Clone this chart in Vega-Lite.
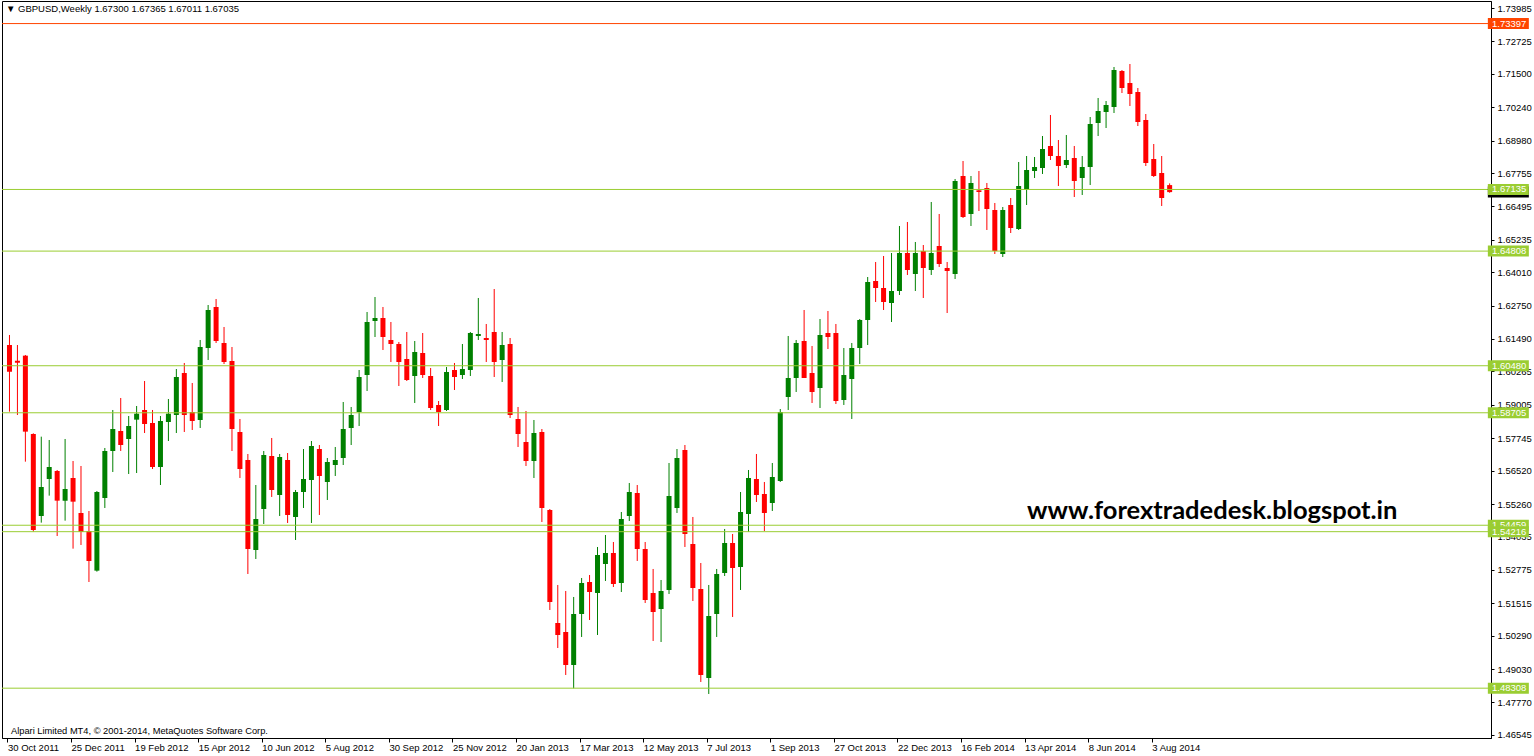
{
  "$schema": "https://vega.github.io/schema/vega-lite/v6.json",
  "width": 1489,
  "height": 737,
  "autosize": {"type": "none"},
  "padding": {"left": 2, "top": 1, "right": 43, "bottom": 18},
  "background": "#ffffff",
  "title": {
    "text": "▼  GBPUSD,Weekly  1.67300 1.67365 1.67011 1.67035",
    "anchor": "start", "frame": "group", "offset": -12, "dx": 4,
    "font": "Liberation Sans", "fontSize": 9.5, "fontWeight": "normal", "color": "#000000"
  },
  "config": {
    "view": {"stroke": "#000000", "strokeWidth": 1},
    "axis": {
      "grid": false, "domainColor": "#000000", "tickColor": "#000000", "labelColor": "#000000",
      "labelFont": "Liberation Sans", "labelFontSize": 9.5, "tickSize": 3, "labelOverlap": false, "labelFlush": false
    }
  },
  "datasets": {
    "candles": [
      {"date": "2011-10-30", "open": 1.61263, "high": 1.61641, "low": 1.58747, "close": 1.60257},
      {"date": "2011-11-06", "open": 1.60672, "high": 1.61263, "low": 1.58621, "close": 1.60596},
      {"date": "2011-11-13", "open": 1.60861, "high": 1.60886, "low": 1.56859, "close": 1.57992},
      {"date": "2011-11-20", "open": 1.57904, "high": 1.57929, "low": 1.54217, "close": 1.54280},
      {"date": "2011-11-27", "open": 1.54808, "high": 1.57803, "low": 1.54557, "close": 1.55903},
      {"date": "2011-12-04", "open": 1.56205, "high": 1.57677, "low": 1.55576, "close": 1.56658},
      {"date": "2011-12-11", "open": 1.56507, "high": 1.56545, "low": 1.54053, "close": 1.55387},
      {"date": "2011-12-18", "open": 1.55387, "high": 1.57715, "low": 1.54632, "close": 1.55827},
      {"date": "2011-12-25", "open": 1.56243, "high": 1.56884, "low": 1.53575, "close": 1.55349},
      {"date": "2012-01-01", "open": 1.54922, "high": 1.56696, "low": 1.53714, "close": 1.54204},
      {"date": "2012-01-08", "open": 1.54242, "high": 1.54997, "low": 1.52317, "close": 1.53110},
      {"date": "2012-01-15", "open": 1.52745, "high": 1.55752, "low": 1.52707, "close": 1.55714},
      {"date": "2012-01-22", "open": 1.55488, "high": 1.57375, "low": 1.55110, "close": 1.57262},
      {"date": "2012-01-29", "open": 1.57262, "high": 1.58810, "low": 1.56469, "close": 1.58092},
      {"date": "2012-02-05", "open": 1.58017, "high": 1.59263, "low": 1.57262, "close": 1.57488},
      {"date": "2012-02-12", "open": 1.57715, "high": 1.58583, "low": 1.56394, "close": 1.58206},
      {"date": "2012-02-19", "open": 1.58445, "high": 1.58961, "low": 1.56431, "close": 1.58671},
      {"date": "2012-02-26", "open": 1.58810, "high": 1.59904, "low": 1.57941, "close": 1.58281},
      {"date": "2012-03-04", "open": 1.58319, "high": 1.58810, "low": 1.56582, "close": 1.56658},
      {"date": "2012-03-11", "open": 1.56658, "high": 1.58583, "low": 1.55978, "close": 1.58394},
      {"date": "2012-03-18", "open": 1.58357, "high": 1.59225, "low": 1.57639, "close": 1.58671},
      {"date": "2012-03-25", "open": 1.58621, "high": 1.60357, "low": 1.57941, "close": 1.60055},
      {"date": "2012-04-01", "open": 1.60206, "high": 1.60584, "low": 1.57979, "close": 1.58621},
      {"date": "2012-04-08", "open": 1.58734, "high": 1.59829, "low": 1.58055, "close": 1.58394},
      {"date": "2012-04-15", "open": 1.58432, "high": 1.61452, "low": 1.58130, "close": 1.61188},
      {"date": "2012-04-22", "open": 1.61150, "high": 1.62773, "low": 1.60697, "close": 1.62585},
      {"date": "2012-04-29", "open": 1.62698, "high": 1.63000, "low": 1.61339, "close": 1.61414},
      {"date": "2012-05-06", "open": 1.61339, "high": 1.61943, "low": 1.60546, "close": 1.60622},
      {"date": "2012-05-13", "open": 1.60659, "high": 1.61188, "low": 1.57262, "close": 1.58092},
      {"date": "2012-05-20", "open": 1.57979, "high": 1.58470, "low": 1.56243, "close": 1.56582},
      {"date": "2012-05-27", "open": 1.56922, "high": 1.57149, "low": 1.52619, "close": 1.53563},
      {"date": "2012-06-03", "open": 1.53525, "high": 1.55978, "low": 1.53185, "close": 1.54695},
      {"date": "2012-06-10", "open": 1.55072, "high": 1.57262, "low": 1.54506, "close": 1.57111},
      {"date": "2012-06-17", "open": 1.57073, "high": 1.57753, "low": 1.55526, "close": 1.55790},
      {"date": "2012-06-24", "open": 1.55601, "high": 1.57149, "low": 1.54808, "close": 1.57035},
      {"date": "2012-07-01", "open": 1.56922, "high": 1.57186, "low": 1.54544, "close": 1.54846},
      {"date": "2012-07-08", "open": 1.54771, "high": 1.55790, "low": 1.53902, "close": 1.55714},
      {"date": "2012-07-15", "open": 1.55714, "high": 1.57337, "low": 1.55110, "close": 1.56205},
      {"date": "2012-07-22", "open": 1.56167, "high": 1.57639, "low": 1.54544, "close": 1.57451},
      {"date": "2012-07-29", "open": 1.57337, "high": 1.57488, "low": 1.54846, "close": 1.56318},
      {"date": "2012-08-05", "open": 1.56092, "high": 1.56998, "low": 1.55412, "close": 1.56847},
      {"date": "2012-08-12", "open": 1.56733, "high": 1.57413, "low": 1.56318, "close": 1.56922},
      {"date": "2012-08-19", "open": 1.56998, "high": 1.59112, "low": 1.56733, "close": 1.58092},
      {"date": "2012-08-26", "open": 1.58130, "high": 1.58923, "low": 1.57488, "close": 1.58621},
      {"date": "2012-09-02", "open": 1.58734, "high": 1.60320, "low": 1.58206, "close": 1.60055},
      {"date": "2012-09-09", "open": 1.60131, "high": 1.62509, "low": 1.59527, "close": 1.62132},
      {"date": "2012-09-16", "open": 1.62169, "high": 1.63075, "low": 1.61565, "close": 1.62283},
      {"date": "2012-09-23", "open": 1.62283, "high": 1.62698, "low": 1.61075, "close": 1.61565},
      {"date": "2012-09-30", "open": 1.61452, "high": 1.62132, "low": 1.60622, "close": 1.61301},
      {"date": "2012-10-07", "open": 1.61301, "high": 1.61377, "low": 1.59716, "close": 1.60622},
      {"date": "2012-10-14", "open": 1.60735, "high": 1.61754, "low": 1.59904, "close": 1.59942},
      {"date": "2012-10-21", "open": 1.60093, "high": 1.61414, "low": 1.59074, "close": 1.60999},
      {"date": "2012-10-28", "open": 1.60961, "high": 1.61716, "low": 1.60018, "close": 1.60131},
      {"date": "2012-11-04", "open": 1.60093, "high": 1.60395, "low": 1.58810, "close": 1.58885},
      {"date": "2012-11-11", "open": 1.58998, "high": 1.59149, "low": 1.58206, "close": 1.58734},
      {"date": "2012-11-18", "open": 1.58810, "high": 1.60433, "low": 1.58772, "close": 1.60244},
      {"date": "2012-11-25", "open": 1.60320, "high": 1.60584, "low": 1.59565, "close": 1.60055},
      {"date": "2012-12-02", "open": 1.60131, "high": 1.61301, "low": 1.59980, "close": 1.60357},
      {"date": "2012-12-09", "open": 1.60320, "high": 1.61754, "low": 1.60093, "close": 1.61716},
      {"date": "2012-12-16", "open": 1.61603, "high": 1.63038, "low": 1.61452, "close": 1.61679},
      {"date": "2012-12-23", "open": 1.61528, "high": 1.62056, "low": 1.60622, "close": 1.61452},
      {"date": "2012-12-30", "open": 1.61754, "high": 1.63377, "low": 1.60055, "close": 1.60622},
      {"date": "2013-01-06", "open": 1.60697, "high": 1.61754, "low": 1.59867, "close": 1.61263},
      {"date": "2013-01-13", "open": 1.61301, "high": 1.61528, "low": 1.58508, "close": 1.58621},
      {"date": "2013-01-20", "open": 1.58470, "high": 1.58923, "low": 1.57413, "close": 1.57904},
      {"date": "2013-01-27", "open": 1.57602, "high": 1.58772, "low": 1.56696, "close": 1.56884},
      {"date": "2013-02-03", "open": 1.56884, "high": 1.58432, "low": 1.56243, "close": 1.57941},
      {"date": "2013-02-10", "open": 1.57979, "high": 1.58092, "low": 1.54582, "close": 1.55110},
      {"date": "2013-02-17", "open": 1.55035, "high": 1.55072, "low": 1.51260, "close": 1.51562},
      {"date": "2013-02-24", "open": 1.50769, "high": 1.52204, "low": 1.49825, "close": 1.50316},
      {"date": "2013-03-03", "open": 1.50429, "high": 1.51977, "low": 1.48806, "close": 1.49184},
      {"date": "2013-03-10", "open": 1.49184, "high": 1.51751, "low": 1.48303, "close": 1.51109},
      {"date": "2013-03-17", "open": 1.51109, "high": 1.52468, "low": 1.50241, "close": 1.52279},
      {"date": "2013-03-24", "open": 1.52317, "high": 1.52581, "low": 1.50882, "close": 1.51939},
      {"date": "2013-03-31", "open": 1.51902, "high": 1.53638, "low": 1.50316, "close": 1.53336},
      {"date": "2013-04-07", "open": 1.52996, "high": 1.54091, "low": 1.52355, "close": 1.53412},
      {"date": "2013-04-14", "open": 1.53412, "high": 1.53827, "low": 1.52128, "close": 1.52241},
      {"date": "2013-04-21", "open": 1.52279, "high": 1.54959, "low": 1.51939, "close": 1.54695},
      {"date": "2013-04-28", "open": 1.54808, "high": 1.56054, "low": 1.54620, "close": 1.55714},
      {"date": "2013-05-05", "open": 1.55676, "high": 1.55978, "low": 1.53110, "close": 1.53563},
      {"date": "2013-05-12", "open": 1.53563, "high": 1.53827, "low": 1.51524, "close": 1.51637},
      {"date": "2013-05-19", "open": 1.51902, "high": 1.52808, "low": 1.50090, "close": 1.51184},
      {"date": "2013-05-26", "open": 1.51298, "high": 1.52392, "low": 1.50052, "close": 1.51977},
      {"date": "2013-06-02", "open": 1.52015, "high": 1.56809, "low": 1.51864, "close": 1.55563},
      {"date": "2013-06-09", "open": 1.55110, "high": 1.57337, "low": 1.54922, "close": 1.56998},
      {"date": "2013-06-16", "open": 1.57300, "high": 1.57488, "low": 1.53638, "close": 1.54129},
      {"date": "2013-06-23", "open": 1.53751, "high": 1.54771, "low": 1.51600, "close": 1.52090},
      {"date": "2013-06-30", "open": 1.52053, "high": 1.53034, "low": 1.48542, "close": 1.48806},
      {"date": "2013-07-07", "open": 1.48693, "high": 1.52204, "low": 1.48089, "close": 1.51033},
      {"date": "2013-07-14", "open": 1.51109, "high": 1.52808, "low": 1.50241, "close": 1.52619},
      {"date": "2013-07-21", "open": 1.52657, "high": 1.54318, "low": 1.52543, "close": 1.53789},
      {"date": "2013-07-28", "open": 1.53789, "high": 1.54129, "low": 1.50996, "close": 1.52845},
      {"date": "2013-08-04", "open": 1.52883, "high": 1.55714, "low": 1.52015, "close": 1.54959},
      {"date": "2013-08-11", "open": 1.54884, "high": 1.56545, "low": 1.54204, "close": 1.56243},
      {"date": "2013-08-18", "open": 1.56205, "high": 1.57149, "low": 1.55337, "close": 1.55601},
      {"date": "2013-08-25", "open": 1.55639, "high": 1.56092, "low": 1.54242, "close": 1.54922},
      {"date": "2013-09-01", "open": 1.55299, "high": 1.56809, "low": 1.54997, "close": 1.56280},
      {"date": "2013-09-08", "open": 1.56129, "high": 1.58847, "low": 1.56092, "close": 1.58734},
      {"date": "2013-09-15", "open": 1.59301, "high": 1.61603, "low": 1.58810, "close": 1.60018},
      {"date": "2013-09-22", "open": 1.60018, "high": 1.61452, "low": 1.59489, "close": 1.61339},
      {"date": "2013-09-29", "open": 1.61415, "high": 1.62585, "low": 1.60018, "close": 1.60018},
      {"date": "2013-10-06", "open": 1.60207, "high": 1.61226, "low": 1.59074, "close": 1.59489},
      {"date": "2013-10-13", "open": 1.59640, "high": 1.62245, "low": 1.58885, "close": 1.61641},
      {"date": "2013-10-20", "open": 1.61716, "high": 1.62547, "low": 1.61112, "close": 1.61565},
      {"date": "2013-10-27", "open": 1.61716, "high": 1.62056, "low": 1.59036, "close": 1.59150},
      {"date": "2013-11-03", "open": 1.59187, "high": 1.61150, "low": 1.58999, "close": 1.60131},
      {"date": "2013-11-10", "open": 1.59980, "high": 1.61339, "low": 1.58470, "close": 1.61150},
      {"date": "2013-11-17", "open": 1.61150, "high": 1.62245, "low": 1.60546, "close": 1.62207},
      {"date": "2013-11-24", "open": 1.62207, "high": 1.63830, "low": 1.61263, "close": 1.63642},
      {"date": "2013-12-01", "open": 1.63679, "high": 1.64397, "low": 1.62887, "close": 1.63415},
      {"date": "2013-12-08", "open": 1.63415, "high": 1.64623, "low": 1.62585, "close": 1.62887},
      {"date": "2013-12-15", "open": 1.62849, "high": 1.64736, "low": 1.62132, "close": 1.63302},
      {"date": "2013-12-22", "open": 1.63302, "high": 1.65756, "low": 1.63151, "close": 1.64736},
      {"date": "2013-12-29", "open": 1.64736, "high": 1.65907, "low": 1.63906, "close": 1.64095},
      {"date": "2014-01-05", "open": 1.63944, "high": 1.65152, "low": 1.63302, "close": 1.64736},
      {"date": "2014-01-12", "open": 1.64812, "high": 1.65038, "low": 1.63038, "close": 1.64170},
      {"date": "2014-01-19", "open": 1.64095, "high": 1.66662, "low": 1.63906, "close": 1.64736},
      {"date": "2014-01-26", "open": 1.65001, "high": 1.66209, "low": 1.64208, "close": 1.64321},
      {"date": "2014-02-02", "open": 1.64170, "high": 1.64397, "low": 1.62471, "close": 1.64057},
      {"date": "2014-02-09", "open": 1.63944, "high": 1.67530, "low": 1.63755, "close": 1.67454},
      {"date": "2014-02-16", "open": 1.67643, "high": 1.68209, "low": 1.66058, "close": 1.66095},
      {"date": "2014-02-23", "open": 1.66209, "high": 1.67643, "low": 1.65756, "close": 1.67379},
      {"date": "2014-03-02", "open": 1.67102, "high": 1.67832, "low": 1.66322, "close": 1.67039},
      {"date": "2014-03-09", "open": 1.67190, "high": 1.67379, "low": 1.65605, "close": 1.66397},
      {"date": "2014-03-16", "open": 1.66360, "high": 1.66624, "low": 1.64699, "close": 1.64812},
      {"date": "2014-03-23", "open": 1.64699, "high": 1.66473, "low": 1.64585, "close": 1.66360},
      {"date": "2014-03-30", "open": 1.66548, "high": 1.66813, "low": 1.65491, "close": 1.65680},
      {"date": "2014-04-06", "open": 1.65642, "high": 1.68172, "low": 1.65605, "close": 1.67266},
      {"date": "2014-04-13", "open": 1.67152, "high": 1.68398, "low": 1.66548, "close": 1.67870},
      {"date": "2014-04-20", "open": 1.67832, "high": 1.68360, "low": 1.67568, "close": 1.67983},
      {"date": "2014-04-27", "open": 1.67945, "high": 1.69153, "low": 1.67719, "close": 1.68662},
      {"date": "2014-05-04", "open": 1.68776, "high": 1.69946, "low": 1.68247, "close": 1.68398},
      {"date": "2014-05-11", "open": 1.68398, "high": 1.69002, "low": 1.67266, "close": 1.68021},
      {"date": "2014-05-18", "open": 1.68058, "high": 1.69191, "low": 1.67945, "close": 1.68247},
      {"date": "2014-05-25", "open": 1.68323, "high": 1.68776, "low": 1.66850, "close": 1.67454},
      {"date": "2014-06-01", "open": 1.67568, "high": 1.68398, "low": 1.66926, "close": 1.67983},
      {"date": "2014-06-08", "open": 1.67983, "high": 1.69870, "low": 1.67303, "close": 1.69606},
      {"date": "2014-06-15", "open": 1.69644, "high": 1.70588, "low": 1.69153, "close": 1.70097},
      {"date": "2014-06-22", "open": 1.70059, "high": 1.70474, "low": 1.69455, "close": 1.70323},
      {"date": "2014-06-29", "open": 1.70248, "high": 1.71758, "low": 1.70021, "close": 1.71644},
      {"date": "2014-07-06", "open": 1.71607, "high": 1.71644, "low": 1.70776, "close": 1.70965},
      {"date": "2014-07-13", "open": 1.71154, "high": 1.71871, "low": 1.70285, "close": 1.70738},
      {"date": "2014-07-20", "open": 1.70814, "high": 1.70965, "low": 1.69530, "close": 1.69681},
      {"date": "2014-07-27", "open": 1.69757, "high": 1.69983, "low": 1.68021, "close": 1.68134},
      {"date": "2014-08-03", "open": 1.68285, "high": 1.68851, "low": 1.67605, "close": 1.67643},
      {"date": "2014-08-10", "open": 1.67756, "high": 1.68398, "low": 1.66511, "close": 1.66813},
      {"date": "2014-08-17", "open": 1.67300, "high": 1.67365, "low": 1.67011, "close": 1.67035}
    ],
    "levels": [
      {"level": 1.67035, "kind": "bid"},
      {"level": 1.73397, "kind": "high"},
      {"level": 1.67135, "kind": "level"},
      {"level": 1.64808, "kind": "level"},
      {"level": 1.60480, "kind": "level"},
      {"level": 1.58705, "kind": "level"},
      {"level": 1.54459, "kind": "level"},
      {"level": 1.54216, "kind": "level"},
      {"level": 1.48308, "kind": "level"}
    ]
  },
  "layer": [
    {
      "data": {"name": "candles"},
      "mark": {"type": "rule", "strokeWidth": 1},
      "encoding": {
        "x": {
          "field": "date", "type": "temporal", "title": null,
          "scale": {
            "type": "utc",
            "domain": [
              {"year": 2011, "month": 10, "date": 27, "hours": 19, "minutes": 30, "utc": true},
              {"year": 2015, "month": 5, "date": 22, "hours": 16, "minutes": 30, "utc": true}
            ]
          },
          "axis": {
            "orient": "bottom", "format": "%-d %b %Y", "labelAlign": "left", "labelBaseline": "top",
            "labelPadding": 0, "tickSize": 4, "tickOffset": -2, "labelOverlap": false, "tickCount": 60,
            "values": [
              {"year": 2011, "month": 10, "date": 30, "utc": true},
              {"year": 2011, "month": 12, "date": 25, "utc": true},
              {"year": 2012, "month": 2, "date": 19, "utc": true},
              {"year": 2012, "month": 4, "date": 15, "utc": true},
              {"year": 2012, "month": 6, "date": 10, "utc": true},
              {"year": 2012, "month": 8, "date": 5, "utc": true},
              {"year": 2012, "month": 9, "date": 30, "utc": true},
              {"year": 2012, "month": 11, "date": 25, "utc": true},
              {"year": 2013, "month": 1, "date": 20, "utc": true},
              {"year": 2013, "month": 3, "date": 17, "utc": true},
              {"year": 2013, "month": 5, "date": 12, "utc": true},
              {"year": 2013, "month": 7, "date": 7, "utc": true},
              {"year": 2013, "month": 9, "date": 1, "utc": true},
              {"year": 2013, "month": 10, "date": 27, "utc": true},
              {"year": 2013, "month": 12, "date": 22, "utc": true},
              {"year": 2014, "month": 2, "date": 16, "utc": true},
              {"year": 2014, "month": 4, "date": 13, "utc": true},
              {"year": 2014, "month": 6, "date": 8, "utc": true},
              {"year": 2014, "month": 8, "date": 3, "utc": true}
            ]
          }
        },
        "y": {
          "field": "low", "type": "quantitative", "title": null,
          "scale": {"domain": [1.464274, 1.742493], "nice": false, "zero": false},
          "axis": {
            "orient": "right", "format": ".5f", "labelPadding": 3, "labelBaseline": "middle",
            "labelOverlap": false, "labelBound": false, "tickCount": 60,
            "values": [1.73985, 1.72725, 1.715, 1.7024, 1.6898, 1.67755, 1.66495, 1.65235, 1.6401, 1.6275, 1.6149, 1.60265,
                       1.59005, 1.57745, 1.5652, 1.5526, 1.54035, 1.52775, 1.51515, 1.5029, 1.4903, 1.4777, 1.46545]
          }
        },
        "y2": {"field": "high"},
        "color": {"condition": {"test": "datum.close > datum.open", "value": "#008000"}, "value": "#ff0000"}
      }
    },
    {
      "data": {"name": "candles"},
      "mark": {"type": "bar", "width": 5},
      "encoding": {
        "x": {"field": "date", "type": "temporal"},
        "y": {"field": "open", "type": "quantitative"},
        "y2": {"field": "close"},
        "color": {"condition": {"test": "datum.close > datum.open", "value": "#008000"}, "value": "#ff0000"}
      }
    },
    {
      "data": {"name": "levels"},
      "transform": [{"filter": "datum.kind != 'bid'"}],
      "mark": {"type": "rule", "strokeWidth": 1},
      "encoding": {
        "y": {"field": "level", "type": "quantitative"},
        "color": {"field": "kind", "type": "nominal", "legend": null,
                  "scale": {"domain": ["bid", "high", "level"], "range": ["#000000", "#ff4500", "#9acd32"]}}
      }
    },
    {
      "data": {"name": "levels"},
      "transform": [{"filter": "datum.level != 1.54216"}],
      "mark": {"type": "point", "filled": true, "opacity": 1, "strokeWidth": 0, "size": 1681,
               "shape": "M-1,-0.268L1,-0.268L1,0.268L-1,0.268Z"},
      "encoding": {
        "x": {"datum": {"year": 2015, "month": 6, "date": 11, "hours": 9, "utc": true}, "type": "temporal"},
        "y": {"field": "level", "type": "quantitative"},
        "color": {"field": "kind", "type": "nominal", "legend": null}
      }
    },
    {
      "data": {"name": "levels"},
      "transform": [{"filter": "datum.kind != 'bid' && datum.level != 1.54216"}],
      "mark": {"type": "text", "align": "left", "baseline": "middle", "color": "#ffffff",
               "font": "Liberation Sans", "fontSize": 9.5},
      "encoding": {
        "x": {"datum": {"year": 2015, "month": 5, "date": 27, "hours": 22, "minutes": 30, "utc": true}, "type": "temporal"},
        "y": {"field": "level", "type": "quantitative"},
        "text": {"field": "level", "type": "quantitative", "format": ".5f"}
      }
    },
    {
      "data": {"name": "levels"},
      "transform": [{"filter": "datum.level == 1.54216"}],
      "mark": {"type": "point", "filled": true, "opacity": 1, "strokeWidth": 0, "size": 1681,
               "shape": "M-1,-0.268L1,-0.268L1,0.268L-1,0.268Z"},
      "encoding": {
        "x": {"datum": {"year": 2015, "month": 6, "date": 11, "hours": 9, "utc": true}, "type": "temporal"},
        "y": {"field": "level", "type": "quantitative"},
        "color": {"field": "kind", "type": "nominal", "legend": null}
      }
    },
    {
      "data": {"name": "levels"},
      "transform": [{"filter": "datum.level == 1.54216"}],
      "mark": {"type": "text", "align": "left", "baseline": "middle", "color": "#ffffff",
               "font": "Liberation Sans", "fontSize": 9.5},
      "encoding": {
        "x": {"datum": {"year": 2015, "month": 5, "date": 27, "hours": 22, "minutes": 30, "utc": true}, "type": "temporal"},
        "y": {"field": "level", "type": "quantitative"},
        "text": {"field": "level", "type": "quantitative", "format": ".5f"}
      }
    },
    {
      "data": {"values": [{"site": "www.forextradedesk.blogspot.in"}]},
      "mark": {"type": "text", "align": "left", "baseline": "alphabetic", "font": "Lato", "fontWeight": "bold",
               "fontSize": 25.5, "color": "#000000"},
      "encoding": {
        "x": {"datum": {"year": 2014, "month": 4, "date": 13, "hours": 10, "utc": true}, "type": "temporal"},
        "y": {"datum": 1.54683, "type": "quantitative"},
        "text": {"field": "site"}
      }
    },
    {
      "data": {"values": [{"note": "Alpari Limited MT4, © 2001-2014, MetaQuotes Software Corp."}]},
      "mark": {"type": "text", "align": "left", "baseline": "alphabetic", "font": "Liberation Sans",
               "fontSize": 9.3, "color": "#000000"},
      "encoding": {
        "x": {"datum": {"year": 2011, "month": 10, "date": 31, "hours": 7, "minutes": 30, "utc": true}, "type": "temporal"},
        "y": {"datum": 1.46578, "type": "quantitative"},
        "text": {"field": "note"}
      }
    }
  ]
}
